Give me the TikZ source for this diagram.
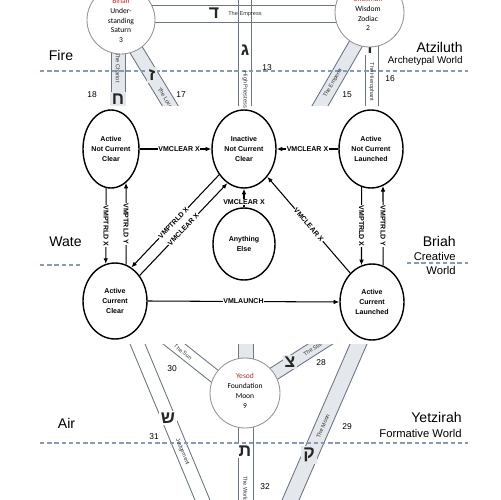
\documentclass[tikz,border=0pt]{standalone}
\usepackage{fontspec}
\setmainfont{Liberation Sans}
\newfontfamily\calib{Carlito}
\newfontfamily\hebfont[Script=Hebrew]{Liberation Sans}
\usetikzlibrary{shapes.geometric,arrows.meta,calc}

\definecolor{chanline}{RGB}{105,118,135}
\definecolor{chanfill}{RGB}{228,231,235}
\definecolor{sephline}{RGB}{150,150,150}
\definecolor{dashcol}{RGB}{135,155,180}
\definecolor{sephred}{RGB}{190,45,45}

\begin{document}
\begin{tikzpicture}[x=0.02cm,y=-0.02cm,
  chan/.style={draw=chanline,line width=0.5pt},
  heb/.style={font=\hebfont\bfseries\fontsize{10}{10}\selectfont,fill=white,inner sep=1.2pt,text=black!85},
  hebg/.style={heb,fill=chanfill},
  ctext/.style={font=\fontsize{3.2}{3.2}\selectfont,inner sep=0pt,text=black!80},
  num/.style={font=\fontsize{4.8}{4.8}\selectfont,inner sep=0pt},
  big/.style={font=\fontsize{8}{8}\selectfont,inner sep=0pt},
  mid/.style={font=\fontsize{6.4}{6.4}\selectfont,inner sep=0pt},
  small/.style={font=\fontsize{5.6}{5.6}\selectfont,inner sep=0pt},
  dsh/.style={draw=dashcol,line width=0.6pt,dash pattern=on 2.5pt off 1.6pt},
  seph/.style={circle,draw=sephline,line width=0.5pt,fill=white,inner sep=0pt},
  stext/.style={font=\calib\fontsize{4.3}{5.6}\selectfont,align=center,inner sep=0pt},
  st/.style={ellipse,draw,line width=0.8pt,fill=white,inner sep=0pt,align=center,
    minimum width=1.28cm,minimum height=1.56cm,font=\bfseries\fontsize{4}{5.7}\selectfont},
  ed/.style={line width=0.6pt,-{Latex[length=3.2pt,width=2.6pt]}},
  lbl/.style={fill=white,inner sep=0.4pt,font=\bfseries\fontsize{4}{4}\selectfont}
]
\useasboundingbox (0,0) rectangle (500,500);
\clip (0,0) rectangle (500,500);

% ---------- upper channels ----------
\begin{scope}
\clip (-10,-20) rectangle (510,106);
% 14 The Empress
\draw[chan] (140,5) -- (350,5) (140,22) -- (350,22);
% 13 High Priestess
\draw[chan] (238.5,-20) -- (238.5,120) (251.5,-20) -- (251.5,120);
% 18 The Chariot
\fill[chanfill] (111,40) rectangle (125,108);
\draw[chan] (111,40) -- (111,108) (125,40) -- (125,108);
% 17 The Lovers
\fill[chanfill] (116,30) -- (132,30) -- (179.6,108) -- (163.6,108) -- cycle;
\draw[chan] (116,30) -- (163.6,108) (132,30) -- (179.6,108);
% 15 The Emperor
\fill[chanfill] (355.8,30) -- (371.8,30) -- (326.8,108) -- (310.8,108) -- cycle;
\draw[chan] (355.8,30) -- (310.8,108) (371.8,30) -- (326.8,108);
% 16 The Hierophant
\draw[chan] (365,20) -- (365,108) (378,20) -- (378,108);
\end{scope}

% ---------- lower channels ----------
\begin{scope}
\clip (-10,344) rectangle (510,520);
% 25
\fill[chanfill] (238,330) rectangle (253,370);
\draw[chan] (238,330) -- (238,370) (253,330) -- (253,370);
% 30 The Sun
\draw[chan] (145.4,330) -- (225,393) (167.4,330) -- (230,379.8);
% 28 The Star
\fill[chanfill] (262,373.4) -- (340,323.5) -- (350,332.9) -- (268,385.4) -- cycle;
\draw[chan] (262,373.4) -- (340,323.5) (268,385.4) -- (350,332.9);
% 31 Judgement
\draw[chan] (124.2,330) -- (203.3,520) (139.2,330) -- (218.3,520);
% 32 The World
\draw[chan] (238,400) -- (238,520) (253,400) -- (253,520);
% 29 The Moon
\fill[chanfill] (356.1,330) -- (373.1,330) -- (290.3,520) -- (273.3,520) -- cycle;
\draw[chan] (356.1,330) -- (273.3,520) (373.1,330) -- (290.3,520);
\end{scope}

% ---------- dashed world lines ----------
\draw[dsh] (40,71) -- (468,71);
\draw[dsh] (40,265) -- (83,265);
\draw[dsh] (407,263) -- (468,263);
\draw[dsh] (40,443) -- (468,443);

% ---------- letters ----------
\node[heb]  (ldaleth) at (214,13.5) {ד};
\node[heb]  (lgimel)  at (245,50) {ג};
\node[hebg] (lcheth)  at (118,99) {ח};
\node[hebg] (lzayin)  at (152,75) {ז};
\node[heb]  (lvav)    at (370,48) {ו};
\node[hebg] (ltzaddi) at (290,362) {צ};
\node[heb]  (ltav)    at (245,451) {ת};
\node[hebg] (lqoph)   at (309,455) {ק};
\node[heb]  (lshin)   at (168,418) {ש};

% ---------- channel texts ----------
\node[ctext] (tempress) at (245,14) {The Empress};
\node[ctext,rotate=-90] (tpriest) at (245,90) {High Priestess};
\node[ctext,rotate=-90] (tchariot) at (118,68) {The Chariot};
\begin{scope}
\clip (-10,-20) rectangle (510,106);
\node[ctext,rotate=-58.6] (tlovers) at (166.5,100) {The Lovers};
\end{scope}
\node[ctext,rotate=60] (temperor) at (333,83) {The Emperor};
\node[ctext,rotate=-90] (thiero) at (371.5,82) {The Hierophant};
\begin{scope}
\clip (-10,344) rectangle (510,520);
\node[ctext,rotate=-38.5] (tsun) at (183,352) {The Sun};
\node[ctext,rotate=32.6] (tstar) at (313,349) {The Star};
\end{scope}
\node[ctext,rotate=-67.4] (tjudg) at (182.5,452) {Judgement};
\node[ctext,rotate=-90] (tworld) at (245.5,489) {The World};
\node[ctext,rotate=66.4] (tmoon) at (323,426) {The Moon};

% ---------- numbers ----------
\node[num] (n13) at (267,68) {13};
\node[num] (n18) at (92,95) {18};
\node[num] (n17) at (181,95) {17};
\node[num] (n15) at (347,95) {15};
\node[num] (n16) at (390,79) {16};
\node[num] (n30) at (172,369) {30};
\node[num] (n28) at (321,363) {28};
\node[num] (n31) at (154,437) {31};
\node[num] (n29) at (347,427) {29};
\node[num] (n32) at (265,487) {32};

% ---------- sephirot ----------
\node[seph,minimum size=1.36cm] (binah) at (121,20) {};
\node[stext] (binahtxt) at (121,20.5) {{\color{sephred}Binah}\\Under-\\standing\\Saturn\\3};
\node[seph,minimum size=1.38cm] (chokmah) at (369.5,12.5) {};
\node[stext] (chokmahtxt) at (368,13.5) {{\color{sephred}Chokmah}\\Wisdom\\Zodiac\\2};
\node[seph,minimum size=1.4cm] (yesod) at (245,393) {};
\node[stext] (yesodtxt) at (245,391) {{\color{sephred}Yesod}\\Foundation\\Moon\\9};

% ---------- world labels ----------
\node[big] (fire) at (61,55) {Fire};
\node[big,anchor=east] (atz) at (463,47) {Atziluth};
\node[small,anchor=east] (atzw) at (463,61) {Archetypal World};
\node[big] (water) at (65.5,242) {Wate};
\node[big,anchor=east] (briah) at (456,241) {Briah};
\node[mid,anchor=east] (briahc) at (456,256) {Creative};
\node[mid,anchor=east] (briahw) at (456,270) {World};
\node[big] (air) at (66.5,423) {Air};
\node[big,anchor=east] (yetz) at (462,417) {Yetzirah};
\node[mid,anchor=east] (yetzw) at (462,433) {Formative World};

% ---------- state machine ----------
\node[st,minimum width=1.12cm] (ANCC) at (111,149) {Active\\Not Current\\Clear};
\node[st] (INCC) at (244,149) {Inactive\\Not Current\\Clear};
\node[st] (ANCL) at (371,149) {Active\\Not Current\\Launched};
\node[st,minimum width=1.24cm,minimum height=1.44cm] (AE) at (244,244) {Anything\\Else};
\node[st,minimum height=1.52cm] (ACC) at (115,301) {Active\\Current\\Clear};
\node[st,minimum height=1.52cm] (ACL) at (372,302) {Active\\Current\\Launched};

\draw[ed] (ANCC.east) -- node[lbl,pos=0.55]{VMCLEAR X} (INCC.west);
\draw[ed] (ANCL.west) -- node[lbl]{VMCLEAR X} (INCC.east);
\draw[ed] (ANCC.-97) -- node[lbl,rotate=-90]{VMPTRLD X} (ACC.104);
\draw[ed] (ACC.73) -- node[lbl,rotate=-90]{VMPTRLD Y} (ANCC.-66);
\draw[ed] (ANCL.-104) -- node[lbl,rotate=-90]{VMPTRLD X} (ACL.106);
\draw[ed] (ACL.73) -- node[lbl,rotate=-90]{VMPTRLD Y} (ANCL.-72);
\draw[ed] (INCC.-134) -- node[lbl,sloped,pos=0.52]{VMPTRLD X} (ACC.64);
\draw[ed] (ACC.46) -- node[lbl,sloped,pos=0.5]{VMCLEAR X} (INCC.-116);
\draw[ed] (ACL.127) -- node[lbl,sloped]{VMCLEAR X} (INCC.-50);
\draw[ed] (AE.north) -- node[lbl,pos=0.3]{VMCLEAR X} (INCC.south);
\draw[ed] (ACC.east) -- node[lbl]{VMLAUNCH} (ACL.west);
\end{tikzpicture}
\end{document}
